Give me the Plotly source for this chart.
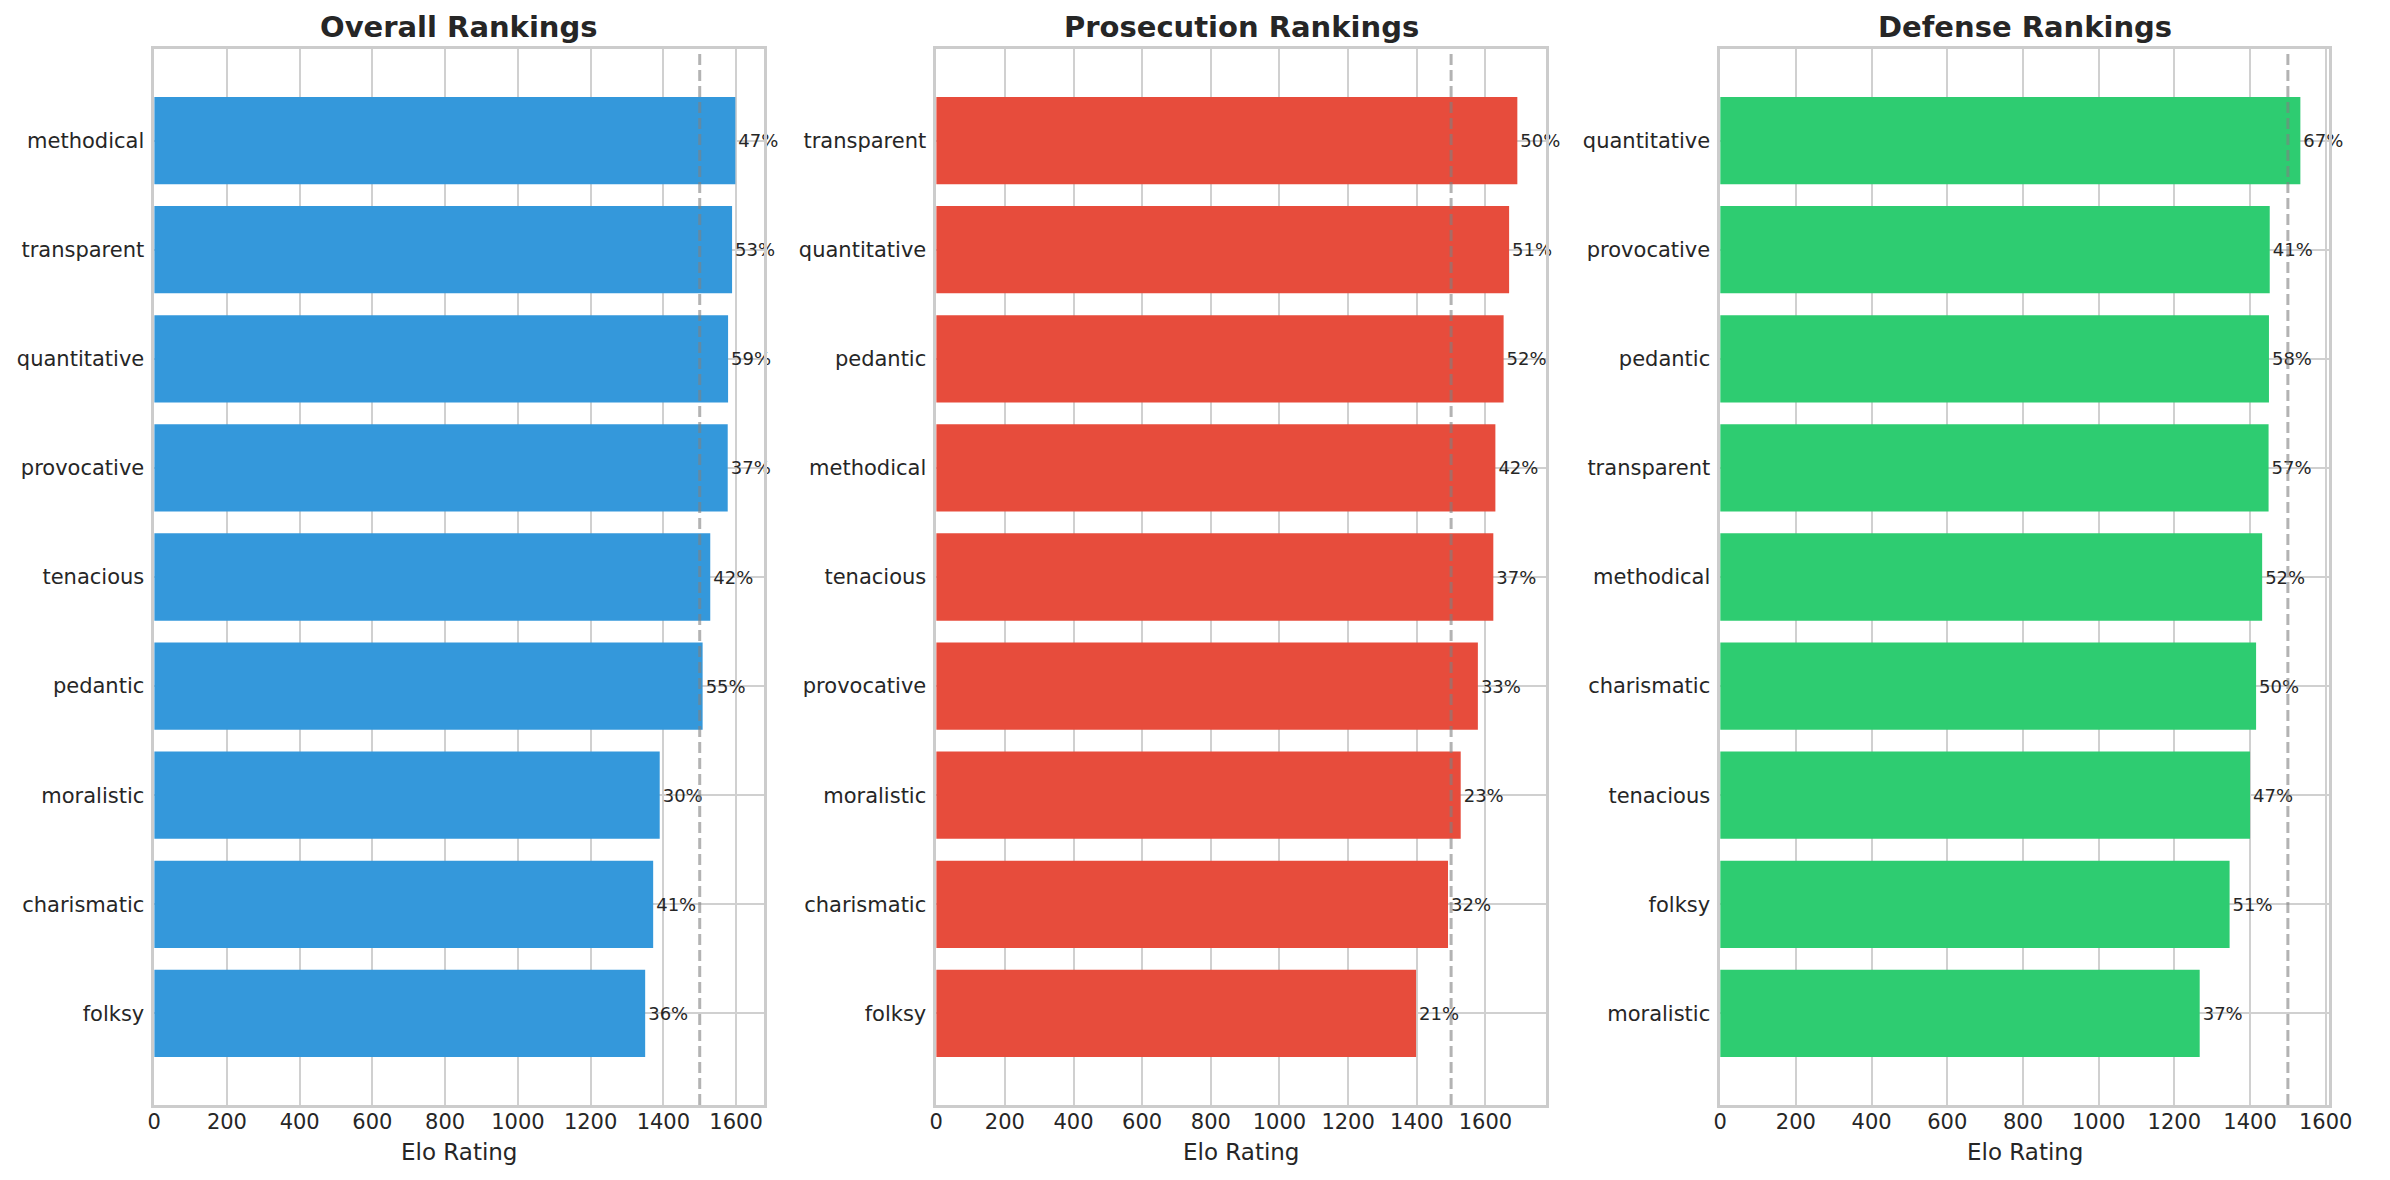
import plotly.graph_objects as go

# ---------------- data ----------------
overall_labels = ["methodical", "transparent", "quantitative", "provocative", "tenacious",
                  "pedantic", "moralistic", "charismatic", "folksy"]
overall_elo = [1598, 1589, 1578, 1577, 1529, 1508, 1390, 1372, 1350]
overall_win = [47, 53, 59, 37, 42, 55, 30, 41, 36]

prosecution_labels = ["transparent", "quantitative", "pedantic", "methodical", "tenacious",
                      "provocative", "moralistic", "charismatic", "folksy"]
prosecution_elo = [1693, 1669, 1653, 1629, 1623, 1578, 1528, 1491, 1398]
prosecution_win = [50, 51, 52, 42, 37, 33, 23, 32, 21]

defense_labels = ["quantitative", "provocative", "pedantic", "transparent", "methodical",
                  "charismatic", "tenacious", "folksy", "moralistic"]
defense_elo = [1533, 1452, 1450, 1449, 1432, 1416, 1400, 1346, 1267]
defense_win = [67, 41, 58, 57, 52, 50, 47, 51, 37]

titles = ["Overall Rankings", "Prosecution Rankings", "Defense Rankings"]
colors = ["#3498db", "#e74c3c", "#2ecc71"]
baseline = 1500
x_title = "Elo Rating"

# ---------------- layout geometry ----------------
OFF = 8  # page body margin
W, H = 2390 - 2 * OFF, 1180 - 2 * OFF
FONT = "DejaVu Sans"
TXT = "#262626"
GRID = "#d0d0d0"
SPINE = "#cccccc"

x_px = [(149, 767), (941, 1559), (1735, 2352)]
top_px, bot_px = 49, 1105


def px_x(v):
    return (v - OFF) / W


def px_y(v):
    return 1 - (v - OFF) / H


y_dom = [px_y(bot_px), px_y(top_px)]

panels = [
    (overall_labels, overall_elo, overall_win),
    (prosecution_labels, prosecution_elo, prosecution_win),
    (defense_labels, defense_elo, defense_win),
]

fig = go.Figure()
annotations = []
shapes = []

for i, (labels, elo, win) in enumerate(panels):
    n = i + 1
    xa = "x" if n == 1 else f"x{n}"
    ya = "y" if n == 1 else f"y{n}"
    fig.add_trace(go.Bar(
        x=elo, y=labels, orientation="h", width=0.8,
        marker=dict(color=colors[i], line=dict(width=0)),
        text=[f"{w}%" for w in win], textposition="outside",
        textfont=dict(family=FONT, size=18, color=TXT),
        constraintext="none", cliponaxis=False,
        xaxis=xa, yaxis=ya, showlegend=False, hoverinfo="x+y",
    ))
    xmax = max(elo) * 1.05
    x0, x1 = x_px[i]
    dom = [px_x(x0), px_x(x1)]
    axis_common = dict(
        showline=True, linecolor=SPINE, linewidth=2.5, mirror=True,
        showgrid=True, gridcolor=GRID, gridwidth=2,
        zeroline=False,
        tickfont=dict(family=FONT, size=21, color=TXT),
    )
    fig.update_layout({
        ("xaxis" if n == 1 else f"xaxis{n}"): dict(
            domain=dom, anchor=ya, range=[0, xmax], tick0=0, dtick=200,
            ticks="outside", ticklen=0, tickcolor="rgba(0,0,0,0)",
            ticklabelstandoff=-4,
            **axis_common),
        ("yaxis" if n == 1 else f"yaxis{n}"): dict(
            domain=y_dom, anchor=xa, type="category",
            categoryorder="array", categoryarray=labels,
            range=[len(labels) - 1 + 0.84, -0.84],
            ticks="outside", ticklen=3, tickcolor="rgba(0,0,0,0)",
            **axis_common),
    })
    shapes.append(dict(
        type="line", xref=xa, yref=f"{ya} domain", x0=baseline, x1=baseline, y0=0, y1=1,
        line=dict(color="rgba(128,128,128,0.6)", width=3, dash="11px,5px"), layer="above",
    ))
    cx = px_x((x0 + x1) / 2)
    annotations.append(dict(
        text=f"<b>{titles[i]}</b>", x=cx, y=px_y(27), xref="paper", yref="paper",
        xanchor="center", yanchor="middle", showarrow=False,
        font=dict(family=FONT, size=29, color=TXT),
    ))
    annotations.append(dict(
        text=x_title, x=cx, y=px_y(1152), xref="paper", yref="paper",
        xanchor="center", yanchor="middle", showarrow=False,
        font=dict(family=FONT, size=23, color=TXT),
    ))

fig.update_layout(
    width=W, height=H,
    margin=dict(l=0, r=0, t=0, b=0),
    paper_bgcolor="white", plot_bgcolor="white",
    annotations=annotations, shapes=shapes,
    bargap=0.2,
    font=dict(family=FONT, color=TXT),
)

fig.write_html("out.html")
